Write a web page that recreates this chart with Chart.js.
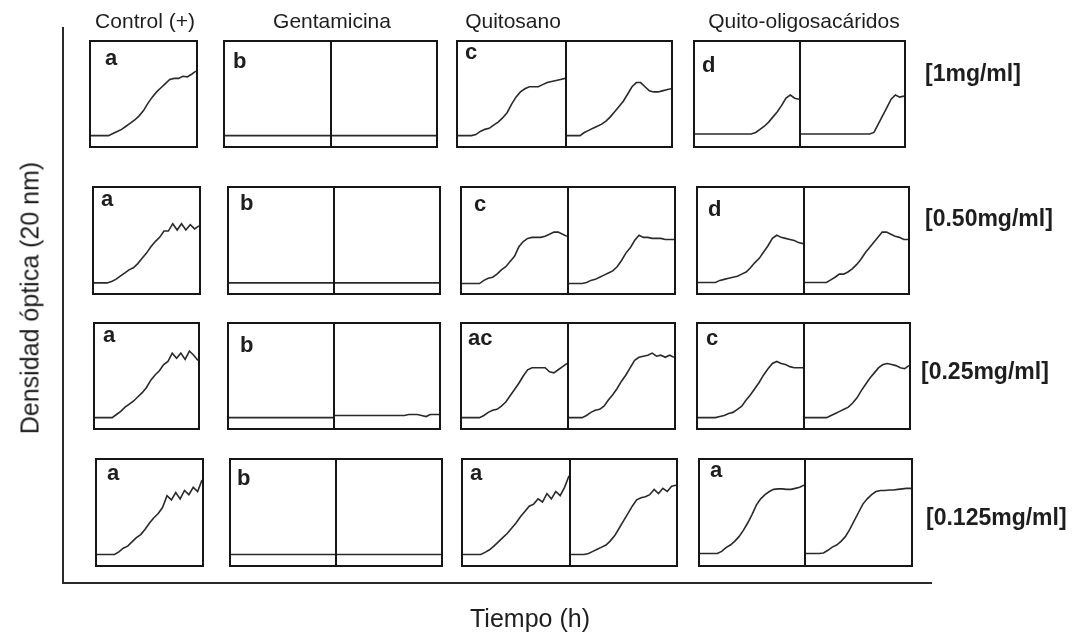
<!DOCTYPE html>
<html lang="es">
<head>
<meta charset="utf-8">
<title>Densidad óptica frente al tiempo</title>
<script src="https://cdn.jsdelivr.net/npm/chart.js@4.4.0/dist/chart.umd.min.js"></script>
<style>
  html, body { margin: 0; padding: 0; background: #fff; }
  #fig { position: relative; width: 1073px; height: 637px; overflow: hidden;
         font-family: "Liberation Sans", Arial, sans-serif; color: #1e1e1e; }
  #axes { position: absolute; left: 0; top: 0; }
  .box { position: absolute; box-sizing: border-box; border: 2px solid #161616;
         display: flex; background: #fff; }
  .cell { position: relative; flex: none; }
  .cell + .cell { border-left: 2px solid #161616; }
  .cell canvas { display: block; }
  .txt { position: absolute; line-height: 1; white-space: nowrap; }
  .head { font-size: 21px; }
  .conc { font-size: 23px; font-weight: bold; }
  .letter { font-size: 22px; font-weight: bold; }
  .title { font-size: 25px; }
</style>
</head>
<body>
<div id="fig">
  <canvas id="axes" width="1073" height="637"></canvas>
</div>
<script>
// time axis of every small growth curve (h)
const hours = [0, 1, 2, 3, 4, 5, 6, 7, 8, 9, 10, 11, 12, 13, 14, 15, 16, 17, 18, 19, 20, 21, 22, 23, 24];

const treatments = ['Control (+)', 'Gentamicina', 'Quitosano', 'Quito-oligosacáridos'];
const concentrations = ['[1mg/ml]', '[0.50mg/ml]', '[0.25mg/ml]', '[0.125mg/ml]'];
const letters = [
  ['a', 'b', 'c', 'd'],
  ['a', 'b', 'c', 'd'],
  ['a', 'b', 'ac', 'c'],
  ['a', 'b', 'a', 'a']
];

// 1 mg/ml
const ctl_1  = [.10,.10,.10,.10,.10,.12,.14,.16,.19,.22,.25,.29,.34,.41,.47,.52,.56,.60,.64,.65,.65,.67,.665,.69,.72];
const gen_1a = [.10,.10,.10,.10,.10,.10,.10,.10,.10,.10,.10,.10,.10,.10,.10,.10,.10,.10,.10,.10,.10,.10,.10,.10,.10];
const gen_1b = [.10,.10,.10,.10,.10,.10,.10,.10,.10,.10,.10,.10,.10,.10,.10,.10,.10,.10,.10,.10,.10,.10,.10,.10,.10];
const qui_1a = [.10,.10,.10,.10,.11,.14,.16,.17,.20,.23,.27,.32,.40,.47,.52,.55,.57,.57,.57,.59,.61,.62,.63,.64,.65];
const qui_1b = [.10,.10,.10,.10,.13,.15,.17,.19,.21,.24,.28,.33,.38,.43,.50,.57,.61,.61,.57,.53,.52,.52,.53,.54,.55];
const qos_1a = [.115,.115,.115,.115,.115,.115,.115,.115,.115,.115,.115,.115,.115,.115,.13,.16,.19,.23,.28,.33,.39,.46,.49,.46,.45];
const qos_1b = [.115,.115,.115,.115,.115,.115,.115,.115,.115,.115,.115,.115,.115,.115,.115,.115,.115,.13,.21,.29,.37,.45,.49,.47,.48];

// 0.50 mg/ml
const ctl_2  = [.096,.096,.096,.096,.11,.13,.16,.19,.22,.24,.28,.33,.38,.44,.49,.53,.59,.59,.66,.60,.66,.60,.65,.61,.64];
const gen_2a = [.096,.096,.096,.096,.096,.096,.096,.096,.096,.096,.096,.096,.096,.096,.096,.096,.096,.096,.096,.096,.096,.096,.096,.096,.096];
const gen_2b = [.096,.096,.096,.096,.096,.096,.096,.096,.096,.096,.096,.096,.096,.096,.096,.096,.096,.096,.096,.096,.096,.096,.096,.096,.096];
const qui_2a = [.09,.09,.09,.09,.09,.12,.14,.15,.18,.22,.25,.30,.35,.44,.49,.52,.53,.53,.53,.54,.56,.58,.58,.56,.54];
const qui_2b = [.09,.09,.09,.09,.10,.12,.13,.15,.17,.19,.21,.25,.31,.38,.43,.50,.55,.53,.53,.52,.52,.52,.51,.51,.51];
const qos_2a = [.10,.10,.10,.10,.10,.12,.13,.14,.15,.16,.18,.20,.24,.29,.33,.39,.45,.52,.55,.53,.52,.51,.50,.48,.47];
const qos_2b = [.10,.10,.10,.10,.10,.10,.125,.15,.18,.18,.20,.23,.27,.32,.38,.43,.48,.53,.58,.58,.56,.54,.53,.51,.51];

// 0.25 mg/ml
const ctl_3  = [.10,.10,.10,.10,.10,.13,.16,.20,.23,.26,.30,.34,.39,.46,.51,.55,.61,.64,.72,.67,.72,.66,.74,.70,.65];
const gen_3a = [.10,.10,.10,.10,.10,.10,.10,.10,.10,.10,.10,.10,.10,.10,.10,.10,.10,.10,.10,.10,.10,.10,.10,.10,.10];
const gen_3b = [.12,.12,.12,.12,.12,.12,.12,.12,.12,.12,.12,.12,.12,.12,.12,.12,.12,.13,.13,.13,.12,.11,.13,.13,.13];
const qui_3a = [.10,.10,.10,.10,.10,.12,.15,.17,.18,.21,.25,.31,.37,.43,.50,.56,.58,.58,.58,.58,.54,.53,.56,.59,.62];
const qui_3b = [.10,.10,.10,.10,.12,.15,.17,.18,.21,.27,.32,.38,.45,.51,.58,.65,.68,.69,.70,.72,.69,.70,.68,.70,.68];
const qos_3a = [.10,.10,.10,.10,.10,.11,.12,.14,.15,.18,.21,.27,.32,.38,.44,.51,.57,.62,.64,.62,.61,.59,.58,.58,.58];
const qos_3b = [.10,.10,.10,.10,.10,.10,.12,.14,.16,.18,.20,.24,.29,.36,.42,.48,.53,.58,.61,.62,.61,.60,.58,.57,.60];

// 0.125 mg/ml
const ctl_4  = [.10,.10,.10,.10,.10,.125,.16,.18,.22,.26,.29,.34,.40,.45,.49,.55,.66,.62,.69,.63,.71,.67,.74,.70,.81];
const gen_4a = [.10,.10,.10,.10,.10,.10,.10,.10,.10,.10,.10,.10,.10,.10,.10,.10,.10,.10,.10,.10,.10,.10,.10,.10,.10];
const gen_4b = [.10,.10,.10,.10,.10,.10,.10,.10,.10,.10,.10,.10,.10,.10,.10,.10,.10,.10,.10,.10,.10,.10,.10,.10,.10];
const qui_4a = [.10,.10,.10,.10,.10,.12,.145,.18,.22,.26,.30,.35,.40,.46,.51,.56,.58,.63,.60,.68,.63,.70,.66,.74,.85];
const qui_4b = [.10,.10,.10,.10,.11,.13,.15,.17,.19,.23,.28,.35,.42,.49,.56,.62,.64,.65,.67,.72,.68,.73,.70,.75,.76];
const qos_4a = [.11,.11,.11,.11,.11,.13,.165,.19,.225,.27,.33,.40,.48,.57,.63,.67,.70,.72,.725,.725,.72,.72,.73,.74,.76];
const qos_4b = [.11,.11,.11,.11,.115,.14,.17,.19,.225,.27,.34,.42,.50,.58,.63,.67,.70,.71,.71,.715,.715,.72,.725,.73,.73];

const curves = [
  [[ctl_1], [gen_1a, gen_1b], [qui_1a, qui_1b], [qos_1a, qos_1b]],
  [[ctl_2], [gen_2a, gen_2b], [qui_2a, qui_2b], [qos_2a, qos_2b]],
  [[ctl_3], [gen_3a, gen_3b], [qui_3a, qui_3b], [qos_3a, qos_3b]],
  [[ctl_4], [gen_4a, gen_4b], [qui_4a, qui_4b], [qos_4a, qos_4b]]
];

// page layout: row top/bottom, box [left, divider, right], letter [x, baseline]
const rowEdges = [[41, 147], [187, 294], [323, 429], [459, 566]];
const boxEdges = [
  [[90, null, 197], [224, 331, 437], [457, 566, 672], [694, 800, 905]],
  [[93, null, 200], [228, 334, 440], [461, 568, 675], [697, 804, 909]],
  [[94, null, 199], [228, 334, 440], [461, 568, 675], [697, 804, 910]],
  [[96, null, 203], [230, 336, 442], [462, 570, 677], [699, 805, 912]]
];
const letterPos = [
  [[105, 66], [233, 69], [465, 60], [702, 73]],
  [[101, 207], [240, 211], [474, 212], [708, 217]],
  [[103, 343], [240, 353], [468, 346], [706, 346]],
  [[107, 481], [237, 486], [470, 481], [710, 478]]
];
const headX = [145, 332, 513, 804];
const concPos = [[925, 81], [925, 226], [921, 379], [926, 525]];

const fig = document.getElementById('fig');

function put(text, x, base, cls, center) {
  const el = document.createElement('div');
  el.className = 'txt ' + cls;
  el.textContent = text;
  fig.appendChild(el);
  const size = parseFloat(getComputedStyle(el).fontSize);
  el.style.left = x + 'px';
  el.style.top = (base - 0.8465 * size) + 'px';
  if (center) el.style.transform = 'translateX(-50%)';
  return el;
}

// outer L-shaped axes
new Chart(document.getElementById('axes'), {
  type: 'line',
  data: { datasets: [] },
  options: {
    responsive: false,
    animation: false,
    devicePixelRatio: 1,
    layout: { padding: { left: 63, top: 28, right: 1073 - 931, bottom: 637 - 583 } },
    plugins: { legend: { display: false }, tooltip: { enabled: false } },
    scales: {
      x: {
        type: 'linear', min: 0, max: 24,
        ticks: { display: false },
        grid: { display: false, drawTicks: false },
        border: { display: true, color: '#2a2a2a', width: 2 },
        afterFit: s => { s.height = 0; }
      },
      y: {
        type: 'linear', min: 0, max: 1,
        ticks: { display: false },
        grid: { display: false, drawTicks: false },
        border: { display: true, color: '#2a2a2a', width: 2 },
        afterFit: s => { s.width = 0; }
      }
    }
  }
});

function growthChart(canvas, values) {
  return new Chart(canvas, {
    type: 'line',
    data: {
      labels: hours,
      datasets: [{
        data: values,
        borderColor: '#2a2a2a',
        borderWidth: 1.6,
        pointRadius: 0,
        tension: 0,
        fill: false
      }]
    },
    options: {
      responsive: false,
      animation: false,
      devicePixelRatio: 1,
      layout: { padding: 0 },
      plugins: { legend: { display: false }, tooltip: { enabled: false } },
      scales: {
        x: { display: false, offset: false },
        y: { display: false, min: 0, max: 1 }
      }
    }
  });
}

rowEdges.forEach(([top, bottom], r) => {
  boxEdges[r].forEach(([left, mid, right], c) => {
    const box = document.createElement('div');
    box.className = 'box';
    box.style.left = (left - 1) + 'px';
    box.style.top = (top - 1) + 'px';
    box.style.width = (right - left + 2) + 'px';
    box.style.height = (bottom - top + 2) + 'px';
    fig.appendChild(box);

    const innerH = bottom - top - 2;
    const widths = mid === null
      ? [right - left - 2]
      : [mid - left - 2, right - mid - 2];

    widths.forEach((w, k) => {
      const cell = document.createElement('div');
      cell.className = 'cell';
      const cv = document.createElement('canvas');
      cv.width = w;
      cv.height = innerH;
      cell.appendChild(cv);
      box.appendChild(cell);
      growthChart(cv, curves[r][c][k]);
    });

    const [lx, lb] = letterPos[r][c];
    put(letters[r][c], lx, lb, 'letter', false);
  });

  put(concentrations[r], concPos[r][0], concPos[r][1], 'conc', false);
});

treatments.forEach((t, c) => put(t, headX[c], 28, 'head', true));

put('Tiempo (h)', 530, 627, 'title', true);

const yTitle = document.createElement('div');
yTitle.className = 'txt title';
yTitle.textContent = 'Densidad óptica (20 nm)';
yTitle.style.left = '30px';
yTitle.style.top = '298px';
yTitle.style.transform = 'translate(-50%, -50%) rotate(-90deg)';
fig.appendChild(yTitle);
</script>
</body>
</html>
